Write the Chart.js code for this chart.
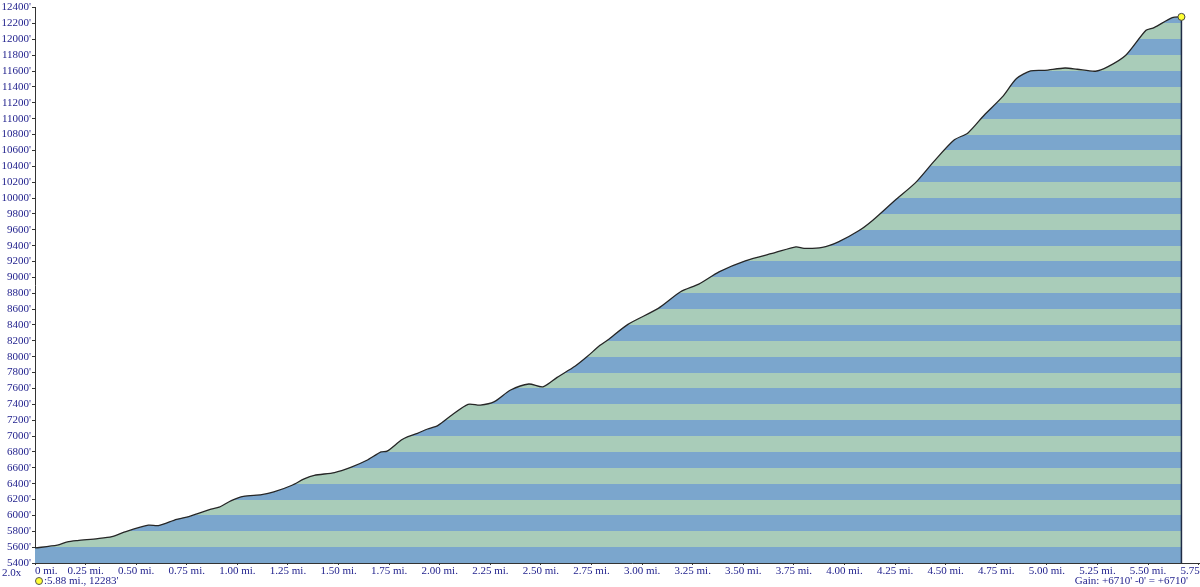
<!DOCTYPE html>
<html>
<head>
<meta charset="utf-8">
<script src="https://cdn.jsdelivr.net/npm/chart.js@4/dist/chart.umd.min.js"></script>
<style>
  html, body { margin: 0; padding: 0; background: #fff; overflow: hidden; width: 1200px; height: 587px; position: relative; }
  #wrap { position: absolute; left: 0; top: 0; width: 1240px; height: 587px; }
  .note { position: absolute; font-family: 'Liberation Serif', serif; font-size: 11px; color: #23238e; white-space: nowrap; line-height: 11px; }
  .dot { display: inline-block; width: 6px; height: 6px; border-radius: 50%; background: #ffff33; border: 1px solid #555; vertical-align: -1px; margin-right: 1px; }
</style>
</head>
<body>
<div id="wrap"><canvas id="profile" width="1240" height="587"></canvas></div>
<div class="note" style="left:2px;top:567px;">2.0x</div>
<div class="note" style="left:35px;top:575px;"><span class="dot"></span>:5.88 mi., 12283'</div>
<div class="note" style="right:12px;top:575px;">Gain: +6710' -0' = +6710'</div>
<script>
// distance along trail (axis miles) and elevation (feet)
const distances = [
  0.00, 0.11, 0.16, 0.21, 0.31, 0.38, 0.44, 0.56, 0.61, 0.70,
  0.76, 0.80, 0.87, 0.91, 0.97, 1.03, 1.12, 1.18, 1.27, 1.33,
  1.38, 1.48, 1.56, 1.64, 1.71, 1.74, 1.81, 1.84, 1.89, 1.94,
  1.99, 2.06, 2.14, 2.20, 2.27, 2.35, 2.44, 2.51, 2.58, 2.67,
  2.73, 2.79, 2.83, 2.93, 3.08, 3.19, 3.28, 3.38, 3.51, 3.66,
  3.76, 3.80, 3.89, 3.97, 4.07, 4.14, 4.25, 4.35, 4.44, 4.54,
  4.61, 4.69, 4.78, 4.85, 4.92, 4.99, 5.09, 5.15, 5.24, 5.30,
  5.39, 5.49, 5.53, 5.62, 5.665
];
const elevations = [
  5590, 5624, 5666, 5683, 5708, 5733, 5788, 5876, 5872, 5950,
  5985, 6019, 6078, 6103, 6186, 6240, 6262, 6295, 6380, 6460,
  6505, 6540, 6605, 6695, 6800, 6810, 6950, 6990, 7035, 7089,
  7131, 7265, 7400, 7390, 7433, 7580, 7656, 7620, 7740, 7883,
  8005, 8140, 8210, 8408, 8609, 8818, 8915, 9070, 9209, 9314,
  9385, 9365, 9377, 9448, 9587, 9721, 9973, 10191, 10456, 10729,
  10821, 11044, 11274, 11506, 11602, 11610, 11639, 11623, 11598, 11652,
  11799, 12114, 12148, 12274, 12283
];
const yMin = 5400;
const yMax = 12400;
const yStep = 200;
const xMax = 5.9;
const xStep = 0.25;

const blue = '#7ba6cd';
const green = '#a9ccb9';
const labelColor = '#23238e';
const labelFont = { family: "'Liberation Serif', serif", size: 11 };

const points = distances.map((d, i) => ({ x: d, y: elevations[i] }));
const last = points[points.length - 1];

function stripeFill(context) {
  const chart = context.chart;
  const area = chart.chartArea;
  if (!area) return blue;
  const y = chart.scales.y;
  const top = y.getPixelForValue(yMax);
  const bottom = y.getPixelForValue(yMin);
  const g = chart.ctx.createLinearGradient(0, top, 0, bottom);
  const frac = (v) => Math.min(1, Math.max(0, (y.getPixelForValue(v) - top) / (bottom - top)));
  for (let v = yMax; v > yMin; v -= yStep) {
    const k = Math.round((v - yStep - yMin) / yStep);
    const col = k % 2 === 0 ? blue : green;
    g.addColorStop(frac(v), col);
    g.addColorStop(frac(v - yStep), col);
  }
  return g;
}

new Chart(document.getElementById('profile'), {
  type: 'line',
  data: {
    datasets: [
      {
        data: [last],
        showLine: false,
        pointRadius: 3.5,
        pointBackgroundColor: '#ffff33',
        pointBorderColor: '#444',
        pointBorderWidth: 1,
        order: 0
      },
      {
        data: [{ x: last.x, y: yMin }, last],
        borderColor: '#1f2b45',
        borderWidth: 1.5,
        pointRadius: 0,
        fill: false,
        order: 1
      },
      {
        data: points,
        borderColor: '#262626',
        borderWidth: 1.3,
        tension: 0.25,
        pointRadius: 0,
        fill: 'start',
        backgroundColor: stripeFill,
        order: 2
      }
    ]
  },
  options: {
    responsive: false,
    animation: false,
    devicePixelRatio: 1,
    layout: { padding: { top: 7, right: 11, left: 0, bottom: 0 } },
    plugins: { legend: { display: false }, tooltip: { enabled: false } },
    scales: {
      x: {
        type: 'linear',
        min: 0,
        max: xMax,
        afterFit: (s) => { s.height = 24; },
        border: { display: true, color: '#333', width: 1 },
        grid: { display: true, drawOnChartArea: false, tickLength: 2, color: '#333' },
        ticks: {
          stepSize: xStep,
          color: labelColor,
          font: labelFont,
          padding: 0,
          align: 'inner',
          maxRotation: 0,
          autoSkip: false,
          callback: (v) => {
            const steps = v / xStep;
            if (Math.abs(steps - Math.round(steps)) > 1e-6) return '';
            return v === 0 ? '0 mi.' : v.toFixed(2) + ' mi.';
          }
        }
      },
      y: {
        min: yMin,
        max: yMax,
        afterFit: (s) => { s.width = 35; },
        border: { display: true, color: '#333', width: 1 },
        grid: { display: true, drawOnChartArea: false, tickLength: 3, color: '#333' },
        ticks: {
          stepSize: yStep,
          color: labelColor,
          font: labelFont,
          padding: 1,
          autoSkip: false,
          callback: (v) => v + "'"
        }
      }
    }
  }
});
</script>
</body>
</html>
